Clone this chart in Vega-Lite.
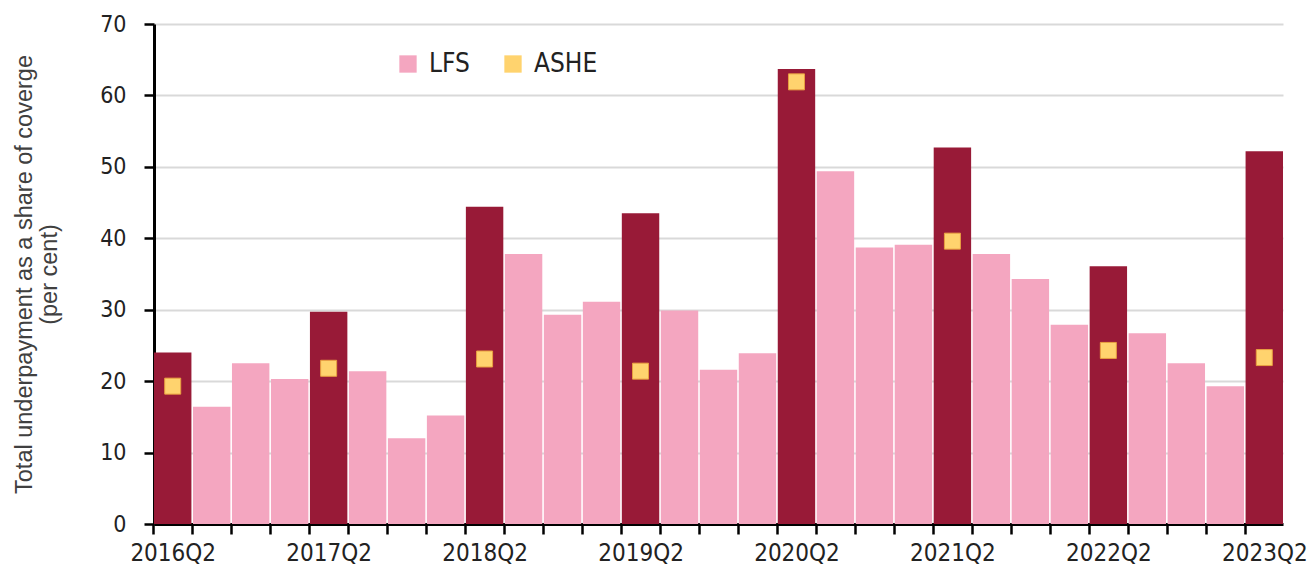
{
  "$schema": "https://vega.github.io/schema/vega-lite/v6.json",
  "width": 1129,
  "height": 500,
  "autosize": {"type": "none"},
  "padding": {"left": 154, "top": 24, "right": 32, "bottom": 55},
  "background": "white",
  "config": {
    "view": {"stroke": null},
    "font": "DejaVu Sans Condensed"
  },
  "data": {
    "values": [
      {"quarter": "2016Q2", "group": "LFS (Q2)", "LFS": 24.0, "ASHE": 19.3},
      {"quarter": "2016Q3", "group": "LFS", "LFS": 16.4, "ASHE": null},
      {"quarter": "2016Q4", "group": "LFS", "LFS": 22.5, "ASHE": null},
      {"quarter": "2017Q1", "group": "LFS", "LFS": 20.3, "ASHE": null},
      {"quarter": "2017Q2", "group": "LFS (Q2)", "LFS": 29.7, "ASHE": 21.8},
      {"quarter": "2017Q3", "group": "LFS", "LFS": 21.4, "ASHE": null},
      {"quarter": "2017Q4", "group": "LFS", "LFS": 12.0, "ASHE": null},
      {"quarter": "2018Q1", "group": "LFS", "LFS": 15.2, "ASHE": null},
      {"quarter": "2018Q2", "group": "LFS (Q2)", "LFS": 44.4, "ASHE": 23.1},
      {"quarter": "2018Q3", "group": "LFS", "LFS": 37.8, "ASHE": null},
      {"quarter": "2018Q4", "group": "LFS", "LFS": 29.3, "ASHE": null},
      {"quarter": "2019Q1", "group": "LFS", "LFS": 31.1, "ASHE": null},
      {"quarter": "2019Q2", "group": "LFS (Q2)", "LFS": 43.5, "ASHE": 21.4},
      {"quarter": "2019Q3", "group": "LFS", "LFS": 29.9, "ASHE": null},
      {"quarter": "2019Q4", "group": "LFS", "LFS": 21.6, "ASHE": null},
      {"quarter": "2020Q1", "group": "LFS", "LFS": 23.9, "ASHE": null},
      {"quarter": "2020Q2", "group": "LFS (Q2)", "LFS": 63.7, "ASHE": 61.9},
      {"quarter": "2020Q3", "group": "LFS", "LFS": 49.4, "ASHE": null},
      {"quarter": "2020Q4", "group": "LFS", "LFS": 38.7, "ASHE": null},
      {"quarter": "2021Q1", "group": "LFS", "LFS": 39.1, "ASHE": null},
      {"quarter": "2021Q2", "group": "LFS (Q2)", "LFS": 52.7, "ASHE": 39.6},
      {"quarter": "2021Q3", "group": "LFS", "LFS": 37.8, "ASHE": null},
      {"quarter": "2021Q4", "group": "LFS", "LFS": 34.3, "ASHE": null},
      {"quarter": "2022Q1", "group": "LFS", "LFS": 27.9, "ASHE": null},
      {"quarter": "2022Q2", "group": "LFS (Q2)", "LFS": 36.1, "ASHE": 24.3},
      {"quarter": "2022Q3", "group": "LFS", "LFS": 26.7, "ASHE": null},
      {"quarter": "2022Q4", "group": "LFS", "LFS": 22.5, "ASHE": null},
      {"quarter": "2023Q1", "group": "LFS", "LFS": 19.3, "ASHE": null},
      {"quarter": "2023Q2", "group": "LFS (Q2)", "LFS": 52.2, "ASHE": 23.3}
    ]
  },
  "layer": [
    {
      "mark": {"type": "bar"},
      "encoding": {
        "x": {
          "field": "quarter",
          "type": "nominal",
          "sort": null,
          "scale": {"paddingInner": 0.04, "paddingOuter": 0},
          "axis": {
            "title": null,
            "labelAngle": 0,
            "labelOverlap": false,
            "labelExpr": "indexof(datum.value, 'Q2') >= 0 ? datum.value : ''",
            "labelFontSize": 24,
            "labelColor": "#222222",
            "labelPadding": 7,
            "tickOffset": -19.5,
            "labelOffset": 19.5,
            "tickColor": "black",
            "tickWidth": 2.5,
            "tickSize": 10,
            "domainColor": "black",
            "domainWidth": 3,
            "grid": false
          }
        },
        "y": {
          "field": "LFS",
          "type": "quantitative",
          "scale": {"domain": [0, 70], "nice": false},
          "axis": {
            "values": [0, 10, 20, 30, 40, 50, 60, 70],
            "title": ["Total underpayment as a share of coverge", "(per cent)"],
            "titleFont": "Liberation Sans",
            "titleFontSize": 23.5,
            "titleFontWeight": "normal",
            "titleColor": "#404040",
            "titlePadding": 38,
            "labelFontSize": 23,
            "labelColor": "#222222",
            "labelPadding": 18,
            "tickColor": "black",
            "tickWidth": 2.5,
            "tickSize": 10,
            "domainColor": "black",
            "domainWidth": 3,
            "gridColor": "#d9d9d9",
            "gridWidth": 2
          }
        },
        "color": {
          "field": "group",
          "type": "nominal",
          "scale": {
            "domain": ["LFS", "ASHE", "LFS (Q2)"],
            "range": ["#F4A6C0", "#FFD36E", "#981A37"]
          },
          "legend": {
            "values": ["LFS", "ASHE"],
            "title": null,
            "orient": "none",
            "direction": "horizontal",
            "legendX": 241,
            "legendY": 27,
            "symbolType": "square",
            "symbolSize": 300,
            "symbolStrokeWidth": 0,
            "labelFontSize": 26,
            "labelColor": "#222222",
            "labelOffset": 8,
            "columnPadding": 30
          }
        }
      }
    },
    {
      "transform": [{"filter": "datum.ASHE != null"}],
      "mark": {"type": "square", "size": 256, "opacity": 1, "stroke": "#E8A040", "strokeWidth": 1, "color": "#FFD36E"},
      "encoding": {
        "x": {"field": "quarter", "type": "nominal", "sort": null},
        "y": {"field": "ASHE", "type": "quantitative"}
      }
    }
  ]
}
